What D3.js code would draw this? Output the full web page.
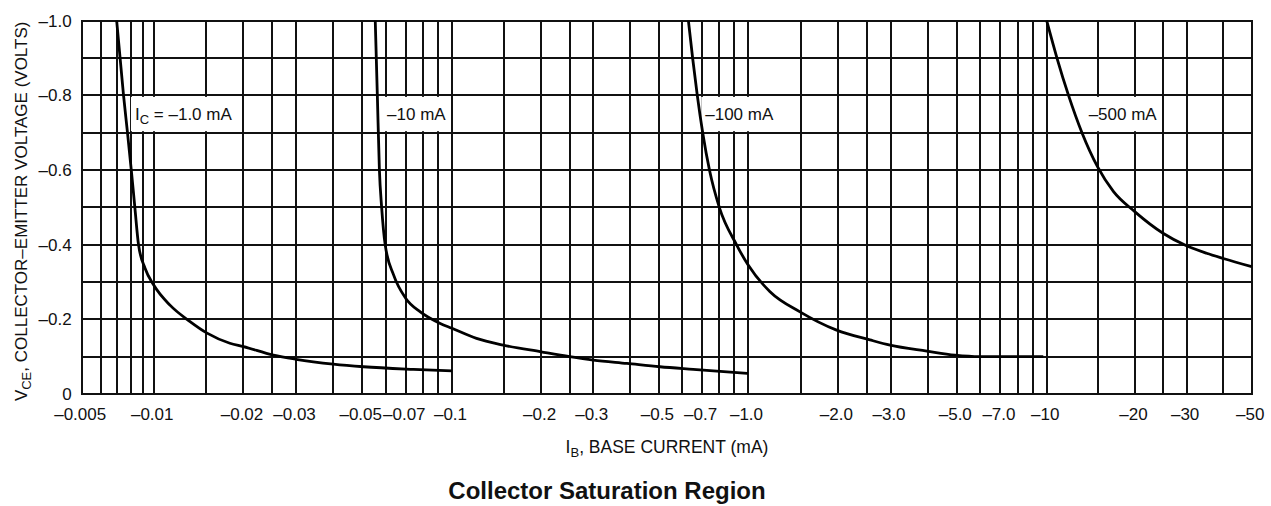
<!DOCTYPE html>
<html>
<head>
<meta charset="utf-8">
<script src="https://cdn.jsdelivr.net/npm/d3@7"></script>
<style>
  html, body { margin: 0; padding: 0; background: #fff; }
  svg { display: block; }
  text { font-family: "Liberation Sans", Arial, Helvetica, sans-serif; fill: #111; }
</style>
</head>
<body>
<svg id="chart" width="1271" height="506"></svg>
<script>
// ---------------- data ----------------
const gridIB = [-0.005,-0.006,-0.007,-0.008,-0.009,
  -0.01,-0.015,-0.02,-0.025,-0.03,-0.04,-0.05,-0.06,-0.07,-0.08,-0.09,
  -0.1,-0.15,-0.2,-0.25,-0.3,-0.4,-0.5,-0.6,-0.7,-0.8,-0.9,
  -1,-1.5,-2,-2.5,-3,-4,-5,-6,-7,-8,-9,
  -10,-15,-20,-25,-30,-40,-50];
const xTickValues = [-0.005,-0.01,-0.02,-0.03,-0.05,-0.07,-0.1,-0.2,-0.3,-0.5,-0.7,-1,-2,-3,-5,-7,-10,-20,-30,-50];
const xTickLabels = ["\u20130.005","\u20130.01","\u20130.02","\u20130.03","\u20130.05","\u20130.07","\u20130.1",
  "\u20130.2","\u20130.3","\u20130.5","\u20130.7","\u20131.0","\u20132.0","\u20133.0","\u20135.0","\u20137.0",
  "\u201310","\u201320","\u201330","\u201350"];
const gridVCE = [0,-0.1,-0.2,-0.3,-0.4,-0.5,-0.6,-0.7,-0.8,-0.9,-1.0];
const yTickValues = [0,-0.2,-0.4,-0.6,-0.8,-1.0];
const yTickLabels = ["0","\u20130.2","\u20130.4","\u20130.6","\u20130.8","\u20131.0"];

// Series: I_C = -1.0 mA, -10 mA, -100 mA, -500 mA
const ib1 = [-0.0070,-0.00748,-0.00777,-0.00806,-0.00834,-0.00864,-0.0092,-0.0100,-0.01134,-0.01324,-0.0151,-0.0180,-0.0200,-0.0252,-0.0300,-0.0400,-0.0505,-0.0743,-0.1000];
const vce1 = [-1.0,-0.8,-0.7,-0.6,-0.5,-0.4,-0.337,-0.292,-0.238,-0.194,-0.163,-0.136,-0.127,-0.104,-0.093,-0.080,-0.073,-0.066,-0.062];
const ib2 = [-0.0553,-0.0562,-0.0571,-0.0581,-0.0597,-0.0637,-0.0700,-0.0783,-0.0913,-0.100,-0.121,-0.149,-0.200,-0.250,-0.300,-0.390,-0.504,-0.653,-1.0];
const vce2 = [-1.0,-0.8,-0.6,-0.5,-0.4,-0.319,-0.256,-0.220,-0.189,-0.176,-0.149,-0.131,-0.113,-0.100,-0.091,-0.082,-0.073,-0.066,-0.055];
const ib3 = [-0.629,-0.650,-0.674,-0.703,-0.741,-0.80,-0.916,-1.0,-1.185,-1.493,-1.98,-2.56,-2.99,-3.97,-4.93,-5.98,-9.74];
const vce3 = [-1.0,-0.9,-0.8,-0.7,-0.6,-0.5,-0.399,-0.346,-0.274,-0.220,-0.171,-0.145,-0.131,-0.115,-0.104,-0.100,-0.100];
const ib4 = [-10.0,-10.84,-11.87,-13.19,-14.9,-16.9,-20,-25,-29.6,-35.1,-40,-50];
const vce4 = [-1.0,-0.9,-0.8,-0.7,-0.609,-0.542,-0.488,-0.430,-0.399,-0.377,-0.363,-0.341];

const seriesIB = [ib1, ib2, ib3, ib4];
const seriesVCE = [vce1, vce2, vce3, vce4];
const labelMain = ["I", "", "", ""];
const labelSub = ["C", "", "", ""];
const labelText = [" = \u20131.0 mA", "\u201310 mA", "\u2013100 mA", "\u2013500 mA"];
const labelIB = [-0.00835, -0.0606, -0.717, -13.9];
const labelVCE = -0.75;
const labelBoxVCE = [-0.8, -0.7];

// ---------------- layout ----------------
const svg = d3.select("#chart");
const plotL = 81.7, plotR = 1251.7, plotT = 20.7, plotB = 394;

// The original axis has a compressed first half-decade; piecewise log scale.
const x = d3.scaleLog()
  .domain([-0.005, -0.01, -0.1, -1, -10, -50])
  .range([plotL, 153.7, 452, 748, 1046.7, plotR]);
const y = d3.scaleLinear().domain([0, -1]).range([plotB, plotT]);

svg.append("rect").attr("width", 1271).attr("height", 506).attr("fill", "#fff");

// grid
const grid = svg.append("g").attr("stroke", "#111").attr("stroke-width", 2)
  .attr("shape-rendering", "crispEdges");
grid.selectAll("line.v").data(gridIB).join("line").attr("class", "v")
  .attr("x1", d => x(d)).attr("x2", d => x(d))
  .attr("y1", plotT - 1).attr("y2", plotB + 1);
grid.selectAll("line.h").data(gridVCE).join("line").attr("class", "h")
  .attr("x1", plotL - 1).attr("x2", plotR + 1)
  .attr("y1", d => y(d)).attr("y2", d => y(d));

// axes (labels only)
const xAxis = d3.axisBottom(x).tickValues(xTickValues)
  .tickFormat((d, i) => xTickLabels[i]).tickSize(0).tickPadding(14);
const gx = svg.append("g").attr("transform", `translate(0,${plotB})`).call(xAxis);
gx.select(".domain").remove();
gx.selectAll("text").attr("font-size", 17).attr("dx", -2).attr("fill", "#111")
  .style("font-family", '"Liberation Sans", Arial, sans-serif');

const yAxis = d3.axisLeft(y).tickValues(yTickValues)
  .tickFormat((d, i) => yTickLabels[i]).tickSize(0).tickPadding(10);
const gy = svg.append("g").attr("transform", `translate(${plotL},0)`).call(yAxis);
gy.select(".domain").remove();
gy.selectAll("text").attr("font-size", 17).attr("fill", "#111")
  .style("font-family", '"Liberation Sans", Arial, sans-serif');

// curve labels with white boxes
const labels = svg.append("g");
const labelNodes = [];
for (let i = 0; i < labelText.length; i++) {
  const t = labels.append("text")
    .attr("x", x(labelIB[i])).attr("y", y(labelVCE) + 6)
    .attr("font-size", 17);
  if (labelMain[i]) {
    t.append("tspan").text(labelMain[i]);
    t.append("tspan").text(labelSub[i]).attr("font-size", 13).attr("dy", 4);
    t.append("tspan").text(labelText[i]).attr("dy", -4);
  } else {
    t.text(labelText[i]);
  }
  labelNodes.push(t);
}
const boxes = svg.insert("g", () => labels.node());
labelNodes.forEach(t => {
  const bb = t.node().getBBox();
  boxes.append("rect")
    .attr("x", bb.x - 4).attr("width", bb.width + 8)
    .attr("y", y(labelBoxVCE[0]) + 1.5)
    .attr("height", y(labelBoxVCE[1]) - y(labelBoxVCE[0]) - 3)
    .attr("fill", "#fff");
});

// curves
const line = d3.line().x(d => x(d[0])).y(d => y(d[1])).curve(d3.curveMonotoneX);
const curves = svg.insert("g", () => labels.node());
seriesIB.forEach((ib, i) => {
  curves.append("path")
    .attr("d", line(ib.map((v, j) => [v, seriesVCE[i][j]])))
    .attr("fill", "none").attr("stroke", "#000").attr("stroke-width", 2.8)
    .attr("stroke-linejoin", "round").attr("stroke-linecap", "butt");
});

// axis titles
const yt = svg.append("text")
  .attr("transform", `translate(27,${(plotT + plotB) / 2 + 4}) rotate(-90)`)
  .attr("text-anchor", "middle").attr("font-size", 17);
yt.append("tspan").text("V");
yt.append("tspan").text("CE").attr("font-size", 13).attr("dy", 4);
yt.append("tspan").text(", COLLECTOR\u2013EMITTER VOLTAGE (VOLTS)").attr("dy", -4);

const xt = svg.append("text")
  .attr("x", 667).attr("y", 453)
  .attr("text-anchor", "middle").attr("font-size", 17.5);
xt.append("tspan").text("I");
xt.append("tspan").text("B").attr("font-size", 13).attr("dy", 4);
xt.append("tspan").text(", BASE CURRENT (mA)").attr("dy", -4);

svg.append("text")
  .attr("x", 607).attr("y", 499)
  .attr("text-anchor", "middle").attr("font-size", 24).attr("font-weight", "bold")
  .text("Collector Saturation Region");
</script>
</body>
</html>
